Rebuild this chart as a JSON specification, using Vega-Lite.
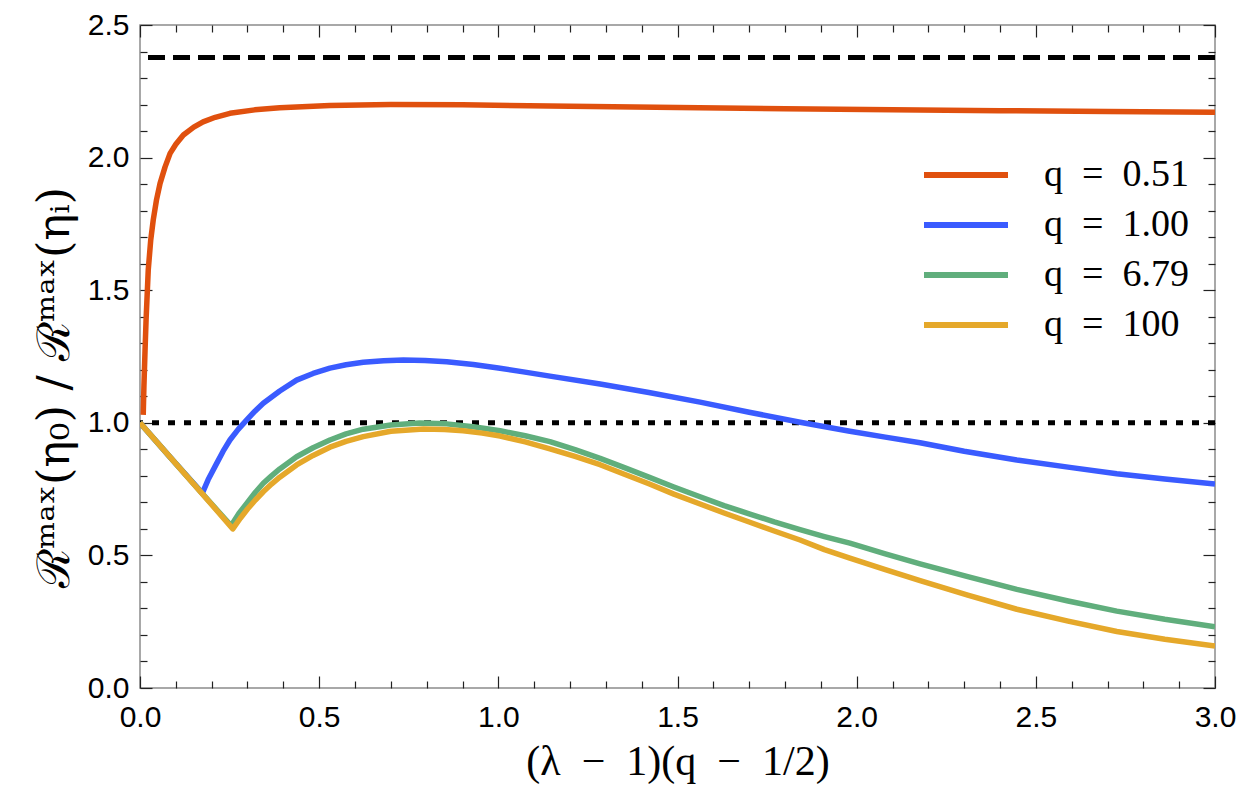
{
  "$schema": "https://vega.github.io/schema/vega-lite/v6.json",
  "width": 1075,
  "height": 663,
  "autosize": {"type": "none"},
  "padding": {"left": 140, "top": 25, "right": 35, "bottom": 112},
  "background": "white",
  "config": {
    "view": {"stroke": "#8c8c8c", "strokeWidth": 1.5},
    "axis": {
      "grid": false,
      "domain": false,
      "ticks": true,
      "tickColor": "#222222",
      "tickWidth": 1.2,
      "labelFont": "Liberation Sans",
      "labelFontSize": 30,
      "labelColor": "black",
      "labelFlush": false
    },
    "legend": {"labelFont": "Liberation Serif"}
  },
  "data": {
    "values": [
      {"series": "q\u2002=\u20020.51", "x": 0.009, "y": 1.03},
      {"series": "q\u2002=\u20020.51", "x": 0.011, "y": 1.14},
      {"series": "q\u2002=\u20020.51", "x": 0.014, "y": 1.27},
      {"series": "q\u2002=\u20020.51", "x": 0.017, "y": 1.39},
      {"series": "q\u2002=\u20020.51", "x": 0.023, "y": 1.576},
      {"series": "q\u2002=\u20020.51", "x": 0.03, "y": 1.69},
      {"series": "q\u2002=\u20020.51", "x": 0.037, "y": 1.765},
      {"series": "q\u2002=\u20020.51", "x": 0.046, "y": 1.84},
      {"series": "q\u2002=\u20020.51", "x": 0.056, "y": 1.903},
      {"series": "q\u2002=\u20020.51", "x": 0.07, "y": 1.965},
      {"series": "q\u2002=\u20020.51", "x": 0.084, "y": 2.016},
      {"series": "q\u2002=\u20020.51", "x": 0.1, "y": 2.05},
      {"series": "q\u2002=\u20020.51", "x": 0.121, "y": 2.085},
      {"series": "q\u2002=\u20020.51", "x": 0.15, "y": 2.115},
      {"series": "q\u2002=\u20020.51", "x": 0.176, "y": 2.135},
      {"series": "q\u2002=\u20020.51", "x": 0.21, "y": 2.152},
      {"series": "q\u2002=\u20020.51", "x": 0.251, "y": 2.167},
      {"series": "q\u2002=\u20020.51", "x": 0.32, "y": 2.18},
      {"series": "q\u2002=\u20020.51", "x": 0.39, "y": 2.188},
      {"series": "q\u2002=\u20020.51", "x": 0.53, "y": 2.196},
      {"series": "q\u2002=\u20020.51", "x": 0.7, "y": 2.2},
      {"series": "q\u2002=\u20020.51", "x": 0.9, "y": 2.199},
      {"series": "q\u2002=\u20020.51", "x": 1.2, "y": 2.194},
      {"series": "q\u2002=\u20020.51", "x": 1.5, "y": 2.189},
      {"series": "q\u2002=\u20020.51", "x": 1.8, "y": 2.184},
      {"series": "q\u2002=\u20020.51", "x": 2.1, "y": 2.18},
      {"series": "q\u2002=\u20020.51", "x": 2.4, "y": 2.177},
      {"series": "q\u2002=\u20020.51", "x": 2.7, "y": 2.174},
      {"series": "q\u2002=\u20020.51", "x": 3.0, "y": 2.171},

      {"series": "q\u2002=\u20021.00", "x": 0, "y": 1.0},
      {"series": "q\u2002=\u20021.00", "x": 0.087, "y": 0.866},
      {"series": "q\u2002=\u20021.00", "x": 0.174, "y": 0.735},
      {"series": "q\u2002=\u20021.00", "x": 0.19, "y": 0.785},
      {"series": "q\u2002=\u20021.00", "x": 0.214, "y": 0.847},
      {"series": "q\u2002=\u20021.00", "x": 0.232, "y": 0.893},
      {"series": "q\u2002=\u20021.00", "x": 0.251, "y": 0.935},
      {"series": "q\u2002=\u20021.00", "x": 0.274, "y": 0.975},
      {"series": "q\u2002=\u20021.00", "x": 0.298, "y": 1.011},
      {"series": "q\u2002=\u20021.00", "x": 0.32, "y": 1.043},
      {"series": "q\u2002=\u20021.00", "x": 0.344, "y": 1.074},
      {"series": "q\u2002=\u20021.00", "x": 0.39, "y": 1.12},
      {"series": "q\u2002=\u20021.00", "x": 0.437, "y": 1.161},
      {"series": "q\u2002=\u20021.00", "x": 0.483, "y": 1.186},
      {"series": "q\u2002=\u20021.00", "x": 0.53, "y": 1.206},
      {"series": "q\u2002=\u20021.00", "x": 0.575, "y": 1.219},
      {"series": "q\u2002=\u20021.00", "x": 0.623, "y": 1.228},
      {"series": "q\u2002=\u20021.00", "x": 0.68, "y": 1.234},
      {"series": "q\u2002=\u20021.00", "x": 0.735, "y": 1.237},
      {"series": "q\u2002=\u20021.00", "x": 0.795, "y": 1.235},
      {"series": "q\u2002=\u20021.00", "x": 0.856, "y": 1.23},
      {"series": "q\u2002=\u20021.00", "x": 0.93, "y": 1.22},
      {"series": "q\u2002=\u20021.00", "x": 1.0, "y": 1.207},
      {"series": "q\u2002=\u20021.00", "x": 1.07, "y": 1.192},
      {"series": "q\u2002=\u20021.00", "x": 1.144, "y": 1.176},
      {"series": "q\u2002=\u20021.00", "x": 1.284, "y": 1.146},
      {"series": "q\u2002=\u20021.00", "x": 1.42, "y": 1.114},
      {"series": "q\u2002=\u20021.00", "x": 1.563, "y": 1.078},
      {"series": "q\u2002=\u20021.00", "x": 1.7, "y": 1.04},
      {"series": "q\u2002=\u20021.00", "x": 1.842, "y": 1.002},
      {"series": "q\u2002=\u20021.00", "x": 1.981, "y": 0.968},
      {"series": "q\u2002=\u20021.00", "x": 2.08, "y": 0.946},
      {"series": "q\u2002=\u20021.00", "x": 2.177, "y": 0.925},
      {"series": "q\u2002=\u20021.00", "x": 2.3, "y": 0.893},
      {"series": "q\u2002=\u20021.00", "x": 2.447, "y": 0.86},
      {"series": "q\u2002=\u20021.00", "x": 2.6, "y": 0.831},
      {"series": "q\u2002=\u20021.00", "x": 2.726, "y": 0.808},
      {"series": "q\u2002=\u20021.00", "x": 2.86, "y": 0.788},
      {"series": "q\u2002=\u20021.00", "x": 3.0, "y": 0.769},

      {"series": "q\u2002=\u20026.79", "x": 0, "y": 1.0},
      {"series": "q\u2002=\u20026.79", "x": 0.087, "y": 0.866},
      {"series": "q\u2002=\u20026.79", "x": 0.174, "y": 0.733},
      {"series": "q\u2002=\u20026.79", "x": 0.254, "y": 0.612},
      {"series": "q\u2002=\u20026.79", "x": 0.276, "y": 0.658},
      {"series": "q\u2002=\u20026.79", "x": 0.3, "y": 0.7},
      {"series": "q\u2002=\u20026.79", "x": 0.322, "y": 0.738},
      {"series": "q\u2002=\u20026.79", "x": 0.344, "y": 0.772},
      {"series": "q\u2002=\u20026.79", "x": 0.367, "y": 0.8},
      {"series": "q\u2002=\u20026.79", "x": 0.39, "y": 0.826},
      {"series": "q\u2002=\u20026.79", "x": 0.437, "y": 0.872},
      {"series": "q\u2002=\u20026.79", "x": 0.483, "y": 0.906},
      {"series": "q\u2002=\u20026.79", "x": 0.53, "y": 0.935},
      {"series": "q\u2002=\u20026.79", "x": 0.575, "y": 0.958},
      {"series": "q\u2002=\u20026.79", "x": 0.623, "y": 0.976},
      {"series": "q\u2002=\u20026.79", "x": 0.7, "y": 0.992},
      {"series": "q\u2002=\u20026.79", "x": 0.78, "y": 0.999},
      {"series": "q\u2002=\u20026.79", "x": 0.856, "y": 0.996},
      {"series": "q\u2002=\u20026.79", "x": 0.93, "y": 0.985},
      {"series": "q\u2002=\u20026.79", "x": 1.005, "y": 0.97},
      {"series": "q\u2002=\u20026.79", "x": 1.075, "y": 0.951},
      {"series": "q\u2002=\u20026.79", "x": 1.144, "y": 0.929},
      {"series": "q\u2002=\u20026.79", "x": 1.214, "y": 0.899},
      {"series": "q\u2002=\u20026.79", "x": 1.284, "y": 0.866},
      {"series": "q\u2002=\u20026.79", "x": 1.35, "y": 0.832},
      {"series": "q\u2002=\u20026.79", "x": 1.42, "y": 0.795},
      {"series": "q\u2002=\u20026.79", "x": 1.49, "y": 0.758},
      {"series": "q\u2002=\u20026.79", "x": 1.563, "y": 0.721},
      {"series": "q\u2002=\u20026.79", "x": 1.63, "y": 0.688},
      {"series": "q\u2002=\u20026.79", "x": 1.7, "y": 0.657},
      {"series": "q\u2002=\u20026.79", "x": 1.77, "y": 0.626},
      {"series": "q\u2002=\u20026.79", "x": 1.842, "y": 0.597},
      {"series": "q\u2002=\u20026.79", "x": 1.91, "y": 0.571},
      {"series": "q\u2002=\u20026.79", "x": 1.981, "y": 0.546},
      {"series": "q\u2002=\u20026.79", "x": 2.08, "y": 0.506},
      {"series": "q\u2002=\u20026.79", "x": 2.177, "y": 0.468},
      {"series": "q\u2002=\u20026.79", "x": 2.31, "y": 0.42},
      {"series": "q\u2002=\u20026.79", "x": 2.447, "y": 0.372},
      {"series": "q\u2002=\u20026.79", "x": 2.59, "y": 0.328},
      {"series": "q\u2002=\u20026.79", "x": 2.726, "y": 0.29},
      {"series": "q\u2002=\u20026.79", "x": 2.86, "y": 0.259},
      {"series": "q\u2002=\u20026.79", "x": 3.0, "y": 0.231},

      {"series": "q\u2002=\u2002100", "x": 0, "y": 1.0},
      {"series": "q\u2002=\u2002100", "x": 0.087, "y": 0.866},
      {"series": "q\u2002=\u2002100", "x": 0.174, "y": 0.732},
      {"series": "q\u2002=\u2002100", "x": 0.259, "y": 0.6},
      {"series": "q\u2002=\u2002100", "x": 0.28, "y": 0.64},
      {"series": "q\u2002=\u2002100", "x": 0.3, "y": 0.675},
      {"series": "q\u2002=\u2002100", "x": 0.322, "y": 0.709},
      {"series": "q\u2002=\u2002100", "x": 0.344, "y": 0.74},
      {"series": "q\u2002=\u2002100", "x": 0.367, "y": 0.769},
      {"series": "q\u2002=\u2002100", "x": 0.39, "y": 0.795},
      {"series": "q\u2002=\u2002100", "x": 0.437, "y": 0.841},
      {"series": "q\u2002=\u2002100", "x": 0.483, "y": 0.877},
      {"series": "q\u2002=\u2002100", "x": 0.53, "y": 0.908},
      {"series": "q\u2002=\u2002100", "x": 0.575, "y": 0.93},
      {"series": "q\u2002=\u2002100", "x": 0.623, "y": 0.948},
      {"series": "q\u2002=\u2002100", "x": 0.7, "y": 0.968},
      {"series": "q\u2002=\u2002100", "x": 0.791, "y": 0.977},
      {"series": "q\u2002=\u2002100", "x": 0.85, "y": 0.975},
      {"series": "q\u2002=\u2002100", "x": 0.902, "y": 0.97},
      {"series": "q\u2002=\u2002100", "x": 0.955, "y": 0.961},
      {"series": "q\u2002=\u2002100", "x": 1.005, "y": 0.95},
      {"series": "q\u2002=\u2002100", "x": 1.075, "y": 0.928},
      {"series": "q\u2002=\u2002100", "x": 1.144, "y": 0.902},
      {"series": "q\u2002=\u2002100", "x": 1.214, "y": 0.873},
      {"series": "q\u2002=\u2002100", "x": 1.284, "y": 0.842},
      {"series": "q\u2002=\u2002100", "x": 1.35, "y": 0.807},
      {"series": "q\u2002=\u2002100", "x": 1.42, "y": 0.77},
      {"series": "q\u2002=\u2002100", "x": 1.49, "y": 0.731},
      {"series": "q\u2002=\u2002100", "x": 1.563, "y": 0.694},
      {"series": "q\u2002=\u2002100", "x": 1.63, "y": 0.66},
      {"series": "q\u2002=\u2002100", "x": 1.7, "y": 0.626},
      {"series": "q\u2002=\u2002100", "x": 1.77, "y": 0.592},
      {"series": "q\u2002=\u2002100", "x": 1.842, "y": 0.558},
      {"series": "q\u2002=\u2002100", "x": 1.91, "y": 0.522},
      {"series": "q\u2002=\u2002100", "x": 1.981, "y": 0.49},
      {"series": "q\u2002=\u2002100", "x": 2.08, "y": 0.446},
      {"series": "q\u2002=\u2002100", "x": 2.177, "y": 0.405},
      {"series": "q\u2002=\u2002100", "x": 2.31, "y": 0.35},
      {"series": "q\u2002=\u2002100", "x": 2.447, "y": 0.297},
      {"series": "q\u2002=\u2002100", "x": 2.59, "y": 0.252},
      {"series": "q\u2002=\u2002100", "x": 2.726, "y": 0.213},
      {"series": "q\u2002=\u2002100", "x": 2.86, "y": 0.184},
      {"series": "q\u2002=\u2002100", "x": 3.0, "y": 0.158}
    ]
  },
  "resolve": {"axis": {"x": "independent", "y": "independent"}},
  "layer": [
    {
      "data": {"values": [{"level": 2.377}]},
      "mark": {"type": "rule", "color": "black", "strokeWidth": 5, "strokeDash": [17, 8]},
      "encoding": {
        "y": {"field": "level", "type": "quantitative", "scale": {"domain": [0, 2.5], "nice": false, "zero": false}, "axis": null}
      }
    },
    {
      "data": {"values": [{"level": 1.0}]},
      "mark": {"type": "rule", "color": "black", "strokeWidth": 5, "strokeDash": [7, 9]},
      "encoding": {
        "y": {"field": "level", "type": "quantitative", "axis": null}
      }
    },
    {
      "mark": {"type": "line", "strokeWidth": 5.5, "clip": true, "strokeJoin": "round"},
      "encoding": {
        "x": {
          "field": "x", "type": "quantitative",
          "scale": {"domain": [0, 3], "nice": false, "zero": false},
          "axis": {
            "orient": "bottom",
            "values": [0, 0.5, 1, 1.5, 2, 2.5, 3],
            "format": ".1f",
            "tickSize": -12,
            "labelPadding": 26,
            "labelFontSize": 30,
            "labelFlush": false,
            "title": "(λ\u2002−\u20021)(q\u2002−\u20021/2)",
            "titleFont": "Liberation Serif",
            "titleFontSize": 42,
            "titleFontWeight": "normal",
            "titleColor": "black",
            "titleX": 537.5,
            "titleY": 73,
            "titleBaseline": "middle"
          }
        },
        "y": {
          "field": "y", "type": "quantitative",
          "scale": {"domain": [0, 2.5], "nice": false, "zero": false},
          "axis": {
            "orient": "left",
            "values": [0, 0.5, 1, 1.5, 2, 2.5],
            "format": ".1f",
            "tickSize": -12,
            "labelPadding": 23,
            "labelFontSize": 30,
            "labelFlush": false,
            "title": "ℛᵐᵃˣ(η₀) / ℛᵐᵃˣ(ηᵢ)",
            "titleFont": "DejaVu Serif",
            "titleFontSize": 45,
            "titleFontWeight": "normal",
            "titleColor": "black",
            "titleX": -86,
            "titleY": 362,
            "titleBaseline": "middle",
            "titleAngle": -90
          }
        },
        "color": {
          "field": "series", "type": "nominal",
          "scale": {
            "domain": ["q\u2002=\u20020.51", "q\u2002=\u20021.00", "q\u2002=\u20026.79", "q\u2002=\u2002100"],
            "range": ["#e0500e", "#3a5bff", "#60ae7c", "#e5a82a"]
          },
          "legend": {
            "title": null,
            "orient": "none",
            "legendX": 807,
            "legendY": 131,
            "padding": 0,
            "symbolType": "M-4,0H4",
            "symbolSize": 441,
            "symbolStrokeWidth": 6,
            "labelFontSize": 38,
            "labelColor": "black",
            "labelOffset": 59,
            "rowPadding": 12
          }
        }
      }
    },
    {
      "mark": {"type": "point", "opacity": 0},
      "encoding": {
        "x": {"field": "x", "type": "quantitative", "axis": {"orient": "bottom", "values": [0.1, 0.2, 0.3, 0.4, 0.6, 0.7, 0.8, 0.9, 1.1, 1.2, 1.3, 1.4, 1.6, 1.7, 1.8, 1.9, 2.1, 2.2, 2.3, 2.4, 2.6, 2.7, 2.8, 2.9], "tickSize": -7, "labels": false, "title": null}},
        "y": {"field": "y", "type": "quantitative", "axis": {"orient": "left", "values": [0.1, 0.2, 0.3, 0.4, 0.6, 0.7, 0.8, 0.9, 1.1, 1.2, 1.3, 1.4, 1.6, 1.7, 1.8, 1.9, 2.1, 2.2, 2.3, 2.4], "tickSize": -7, "labels": false, "title": null}}
      }
    },
    {
      "mark": {"type": "point", "opacity": 0},
      "encoding": {
        "x": {"field": "x", "type": "quantitative", "axis": {"orient": "top", "values": [0, 0.5, 1, 1.5, 2, 2.5, 3], "tickSize": -12, "labels": false, "title": null}},
        "y": {"field": "y", "type": "quantitative", "axis": {"orient": "right", "values": [0, 0.5, 1, 1.5, 2, 2.5], "tickSize": -12, "labels": false, "title": null}}
      }
    },
    {
      "mark": {"type": "point", "opacity": 0},
      "encoding": {
        "x": {"field": "x", "type": "quantitative", "axis": {"orient": "top", "values": [0.1, 0.2, 0.3, 0.4, 0.6, 0.7, 0.8, 0.9, 1.1, 1.2, 1.3, 1.4, 1.6, 1.7, 1.8, 1.9, 2.1, 2.2, 2.3, 2.4, 2.6, 2.7, 2.8, 2.9], "tickSize": -7, "labels": false, "title": null}},
        "y": {"field": "y", "type": "quantitative", "axis": {"orient": "right", "values": [0.1, 0.2, 0.3, 0.4, 0.6, 0.7, 0.8, 0.9, 1.1, 1.2, 1.3, 1.4, 1.6, 1.7, 1.8, 1.9, 2.1, 2.2, 2.3, 2.4], "tickSize": -7, "labels": false, "title": null}}
      }
    }
  ]
}
